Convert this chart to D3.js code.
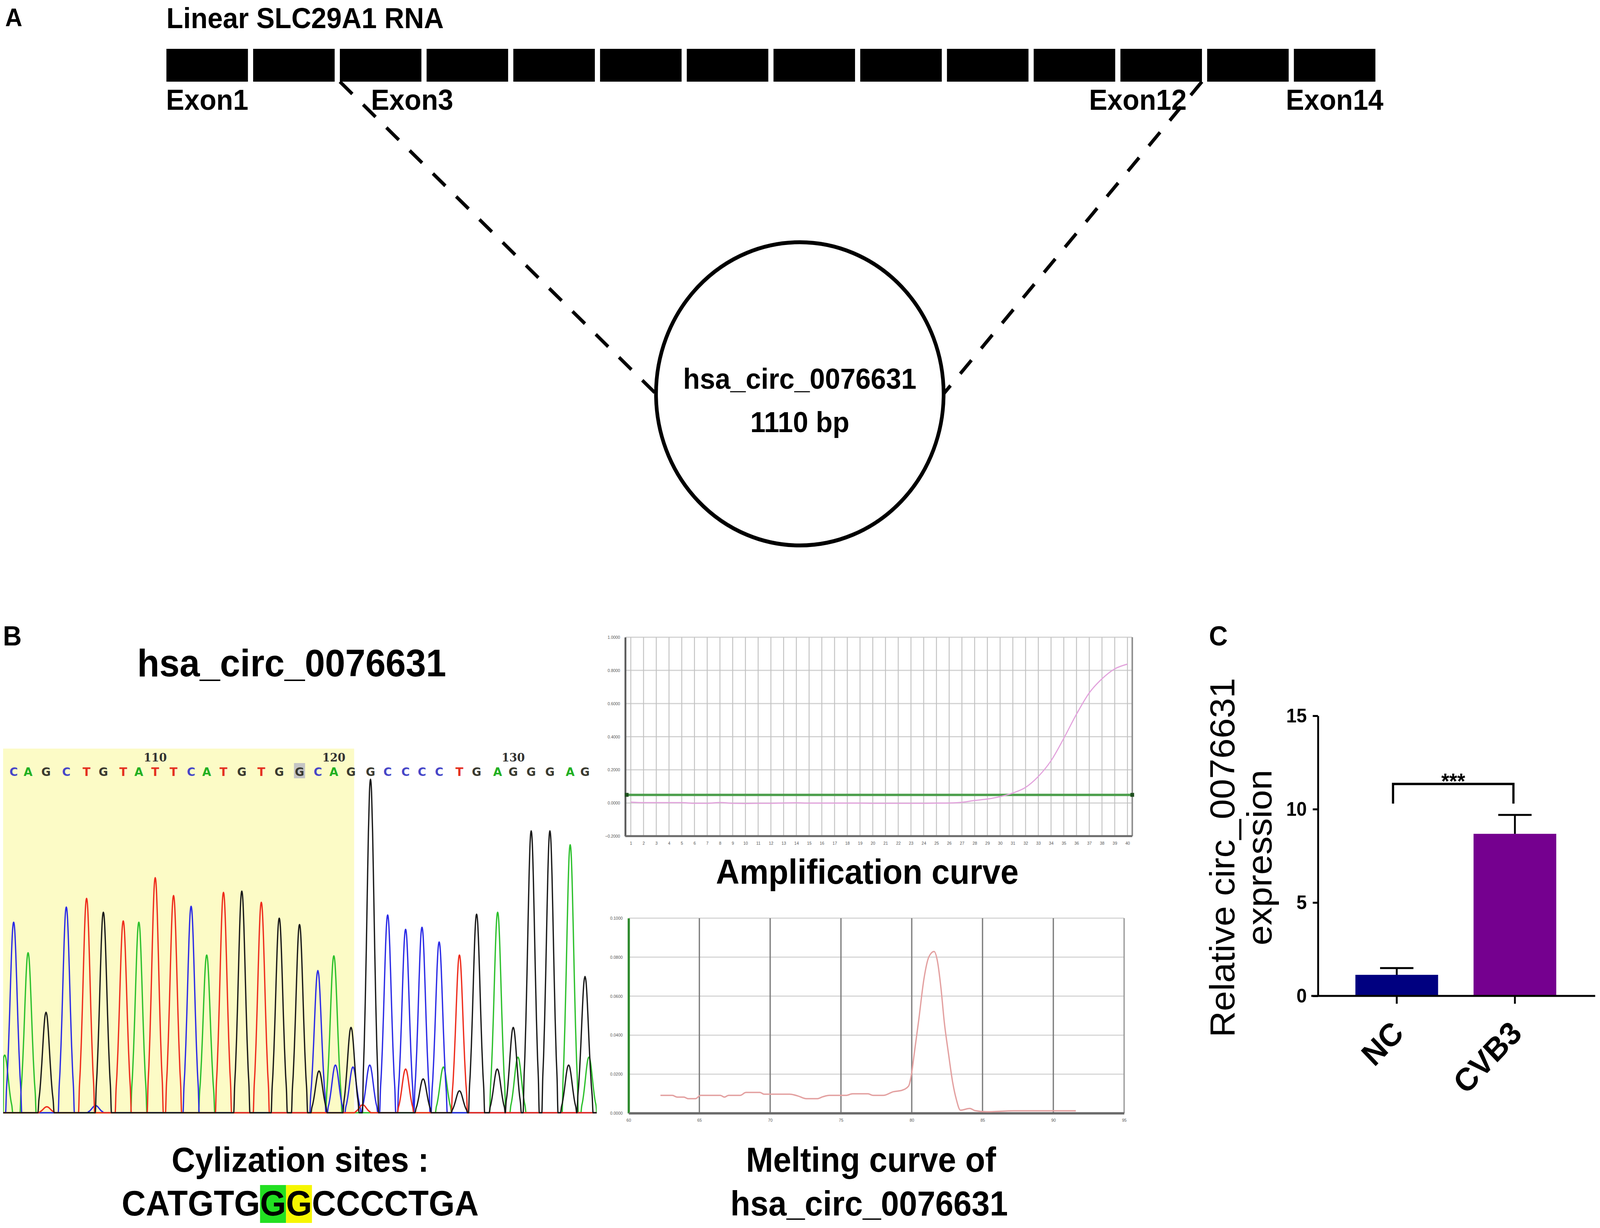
<!DOCTYPE html>
<html>
<head>
<meta charset="utf-8">
<title>hsa_circ_0076631</title>
<script src="https://cdn.jsdelivr.net/npm/d3@7"></script>
<style>
  html, body { margin: 0; padding: 0; background: #fff; overflow: hidden; }
  svg { display: block; width: 100vw; height: 100vh; }
</style>
</head>
<body>
<svg id="figure"></svg>
<script>
/* * * * * * * * * * * * * *
 *          data            *
 * * * * * * * * * * * * * */

// A - linear transcript and back-spliced circle
const exons = [1, 2, 3, 4, 5, 6, 7, 8, 9, 10, 11, 12, 13, 14];
const exonLabels = [
	{ exon: 1, text: 'Exon1' },
	{ exon: 3, text: 'Exon3' },
	{ exon: 12, text: 'Exon12' },
	{ exon: 14, text: 'Exon14' }
];
const circExons = [3, 12];
const circName = 'hsa_circ_0076631';
const circSize = '1110 bp';

// B - Sanger trace (scan position / peak height)
const baseCalls = 'CAGCTGTATTCATGTGGCAGGCCCCTGAGGGAG'.split('');
const firstBase = 102;
const peakScan = [35, 72, 118, 170, 222, 265, 316, 356, 398, 445, 490, 530, 573, 620, 670, 716, 768,
	815, 856, 900, 950, 994, 1040, 1082, 1126, 1178, 1222, 1276, 1316, 1362, 1410, 1462, 1500];
const peakHeight = [480, 403, 253, 518, 540, 505, 483, 480, 592, 547, 520, 397, 555, 558, 530, 490, 474,
	358, 395, 215, 840, 498, 462, 467, 430, 397, 500, 505, 215, 710, 710, 675, 343];
const minorPeaks = [
	{ base: 'A', scan: 12, height: 145 },
	{ base: 'T', scan: 120, height: 15 },
	{ base: 'C', scan: 245, height: 18 },
	{ base: 'G', scan: 818, height: 105 },
	{ base: 'C', scan: 860, height: 120 },
	{ base: 'C', scan: 905, height: 115 },
	{ base: 'T', scan: 930, height: 20 },
	{ base: 'C', scan: 948, height: 120 },
	{ base: 'T', scan: 1040, height: 110 },
	{ base: 'G', scan: 1085, height: 85 },
	{ base: 'A', scan: 1137, height: 115 },
	{ base: 'G', scan: 1178, height: 55 },
	{ base: 'G', scan: 1275, height: 110 },
	{ base: 'A', scan: 1328, height: 140 },
	{ base: 'G', scan: 1458, height: 120 },
	{ base: 'A', scan: 1510, height: 140 }
];
const shadedScan = [8, 908];
const traceScan = [8, 1530];
const markedBase = 16;

const junctionTitle = 'Cylization sites :';
const junctionSeq = 'CATGTGGGCCCCTGA';
const junctionMarks = [{ pos: 6, color: '#22e022' }, { pos: 7, color: '#f6f600' }];

// B - qPCR amplification curve
const ampCycles = [1, 2, 3, 4, 5, 6, 7, 8, 9, 10, 11, 12, 13, 14, 15, 16, 17, 18, 19, 20,
	21, 22, 23, 24, 25, 26, 27, 28, 29, 30, 31, 32, 33, 34, 35, 36, 37, 38, 39, 40];
const ampSignal = [0.005, 0.002, 0.002, 0.002, 0.002, -0.002, -0.002, 0.003, -0.002, -0.003,
	-0.002, -0.002, 0.0, 0.001, -0.001, -0.001, -0.001, -0.001, -0.001, -0.002,
	-0.002, -0.002, -0.002, -0.002, -0.001, 0.0, 0.004, 0.015, 0.024, 0.038,
	0.06, 0.094, 0.16, 0.255, 0.39, 0.536, 0.664, 0.749, 0.809, 0.838];
const ampThreshold = 0.049;
const ampYTicks = [-0.2, 0, 0.2, 0.4, 0.6, 0.8, 1.0];

// B - melting curve
const meltTemp = [62.25, 63.09, 63.44, 63.91, 64.2, 64.73, 65.08, 66.48, 66.77, 67.06, 67.88, 68.29,
	69.28, 69.57, 71.38, 71.96, 72.55, 73.31, 73.72, 74.18, 75.35, 75.82, 76.91, 77.27, 77.99,
	78.71, 79.3, 79.78, 79.96, 80.2, 80.5, 80.86, 81.22, 81.58, 81.82, 82.06, 82.3, 82.6, 82.9,
	83.14, 83.44, 84.1, 84.46, 85.3, 87.22, 91.59];
const meltSignal = [0.0091, 0.0091, 0.0082, 0.0082, 0.0074, 0.0074, 0.0091, 0.0091, 0.0082, 0.0091,
	0.0091, 0.0106, 0.0106, 0.0097, 0.0097, 0.0088, 0.0074, 0.0074, 0.0084, 0.0091, 0.0091, 0.0099,
	0.0099, 0.0091, 0.0091, 0.011, 0.0117, 0.0139, 0.0191, 0.0318, 0.0481, 0.0688, 0.0803, 0.0829,
	0.0777, 0.0644, 0.0466, 0.0303, 0.0154, 0.0073, 0.0015, 0.0024, 0.0013, 0.0007, 0.0012, 0.0012];
const meltXTicks = [60, 65, 70, 75, 80, 85, 90, 95];
const meltYTicks = [0, 0.02, 0.04, 0.06, 0.08, 0.1];

// C - relative expression
const groups = ['NC', 'CVB3'];
const expressionMean = [1.13, 8.68];
const expressionSem = [0.36, 1.01];
const barYTicks = [0, 5, 10, 15];
const significance = '***';

/* * * * * * * * * * * * * *
 *          setup           *
 * * * * * * * * * * * * * */

const W = 4317, H = 3143;
const FONT = '"Liberation Sans", Arial, Helvetica, sans-serif';

// laid out in 4317x3143 units and stretched over the whole window
const svg = d3.select('#figure').attr('viewBox', `0 0 ${W} ${H}`).attr('preserveAspectRatio', 'none');
svg.append('rect').attr('width', W).attr('height', H).attr('fill', '#fff');

function label(parent, text, x, y, size, opts = {}) {
	return parent
		.append('text')
		.attr('x', x)
		.attr('y', y)
		.attr('font-family', opts.family || FONT)
		.attr('font-size', size)
		.attr('font-weight', opts.weight || 'bold')
		.attr('text-anchor', opts.anchor || 'start')
		.attr('fill', opts.fill || '#000')
		.text(text);
}

// panel letters
label(svg, 'A', 14, 67, 64);
label(svg, 'B', 8, 1652, 70);
label(svg, 'C', 3262, 1652, 70);

/* * * * * * * * * * * * * *
 *         panel A          *
 * * * * * * * * * * * * * */

const gA = svg.append('g').attr('class', 'panel-a');

const xExon = d3.scaleBand().domain(exons).range([449, 3711]).paddingInner(0.06).paddingOuter(0);
const exonTop = 125, exonBottom = 209;

label(gA, 'Linear SLC29A1 RNA', xExon(1), 72, 74);

gA.selectAll('.exon')
	.data(exons)
	.join('rect')
	.attr('class', 'exon')
	.attr('x', (d) => xExon(d))
	.attr('y', exonTop)
	.attr('width', xExon.bandwidth())
	.attr('height', exonBottom - exonTop)
	.attr('fill', '#000');

// labels of the junction exons are pushed aside to make room for the dashed lines
const labelNudge = { 3: 85, 12: -63 };
gA.selectAll('.exon-label')
	.data(exonLabels)
	.join('text')
	.attr('class', 'exon-label')
	.attr('x', (d) => xExon(d.exon) + xExon.bandwidth() / 2 + (labelNudge[d.exon] || 0))
	.attr('y', 281)
	.attr('text-anchor', 'middle')
	.attr('font-family', FONT)
	.attr('font-size', 74)
	.attr('font-weight', 'bold')
	.text((d) => d.text);

const circle = { cx: 2158, cy: 1008, r: 388 };

// dashed lines from the back-splice exons down to the circle
const splice = [
	{ x1: xExon(circExons[0]), x2: circle.cx - circle.r },
	{ x1: xExon(circExons[1]) + xExon.bandwidth(), x2: circle.cx + circle.r }
];
gA.selectAll('.splice')
	.data(splice)
	.join('line')
	.attr('class', 'splice')
	.attr('x1', (d) => d.x1)
	.attr('y1', exonBottom)
	.attr('x2', (d) => d.x2)
	.attr('y2', circle.cy)
	.attr('stroke', '#000')
	.attr('stroke-width', 9)
	.attr('stroke-dasharray', '46,40');

gA.append('circle')
	.attr('cx', circle.cx)
	.attr('cy', circle.cy)
	.attr('r', circle.r)
	.attr('fill', '#fff')
	.attr('stroke', '#000')
	.attr('stroke-width', 10);

label(gA, circName, circle.cx, 995, 74, { anchor: 'middle' });
label(gA, circSize, circle.cx, 1106, 74, { anchor: 'middle' });

/* * * * * * * * * * * * * *
 *    panel B - sequence    *
 * * * * * * * * * * * * * */

const gSeq = svg.append('g').attr('class', 'panel-b-seq');

label(gSeq, circName, 787, 1731, 98, { anchor: 'middle' });

const xSeq = d3.scaleLinear().domain([0, 1530]).range([0, 1610]);
const ySeq = d3.scaleLinear().domain([0, 920]).range([2851, 1916]);

const baseColor = { A: '#2cc02c', C: '#2a2ae6', G: '#1a1a1a', T: '#ee2c1c' };
const letterColor = { A: '#22b022', C: '#4646c8', G: '#3a3a30', T: '#e43020' };

gSeq.append('rect')
	.attr('x', xSeq(shadedScan[0]))
	.attr('y', ySeq.range()[1])
	.attr('width', xSeq(shadedScan[1]) - xSeq(shadedScan[0]))
	.attr('height', ySeq.range()[0] - ySeq.range()[1])
	.attr('fill', '#fcfbc6');

// bell shaped peak symbol, in units of the peak width
const PEAK_SHAPE = [[-2.3, 0], [-2.05, 0.12], [-1.8, 0.2], [-1.5, 0.33], [-1.2, 0.49], [-0.9, 0.67],
	[-0.6, 0.84], [-0.3, 0.96], [0, 1], [0.3, 0.96], [0.6, 0.84], [0.9, 0.67], [1.2, 0.49],
	[1.5, 0.33], [1.8, 0.2], [2.05, 0.12], [2.3, 0]];
const PEAK_WIDTH = 9;
const LIFT = 3;

function tracePoints(base) {
	const peaks = [];
	baseCalls.forEach((b, i) => { if (b === base) peaks.push([peakScan[i], peakHeight[i]]); });
	minorPeaks.filter((m) => m.base === base).forEach((m) => peaks.push([m.scan, m.height]));
	peaks.sort((a, b) => a[0] - b[0]);
	const pts = [[traceScan[0], LIFT]];
	peaks.forEach(([s, h]) => PEAK_SHAPE.forEach(([dx, f]) => pts.push([s + dx * PEAK_WIDTH, LIFT + f * h])));
	pts.push([traceScan[1], LIFT]);
	pts.sort((a, b) => a[0] - b[0]);
	return pts.filter((p, i) => i === 0 || p[0] > pts[i - 1][0]);
}

const traceLine = d3.line().x((d) => xSeq(d[0])).y((d) => ySeq(d[1])).curve(d3.curveMonotoneX);

svg.append('clipPath')
	.attr('id', 'trace-clip')
	.append('rect')
	.attr('x', xSeq(traceScan[0]))
	.attr('y', 1900)
	.attr('width', xSeq(traceScan[1]) - xSeq(traceScan[0]))
	.attr('height', 960);

gSeq.append('g')
	.attr('clip-path', 'url(#trace-clip)')
	.selectAll('.trace')
	.data(['A', 'C', 'T', 'G'])
	.join('path')
	.attr('class', 'trace')
	.attr('d', (b) => traceLine(tracePoints(b)))
	.attr('fill', 'none')
	.attr('stroke', (b) => baseColor[b])
	.attr('stroke-width', 3.5)
	.attr('stroke-linejoin', 'round');

// base calls
gSeq.append('rect')
	.attr('x', xSeq(peakScan[markedBase]) - 15)
	.attr('y', 1953)
	.attr('width', 30)
	.attr('height', 39)
	.attr('fill', '#c4c4c4');

gSeq.selectAll('.call')
	.data(baseCalls)
	.join('text')
	.attr('class', 'call')
	.attr('x', (d, i) => xSeq(peakScan[i]))
	.attr('y', 1986)
	.attr('text-anchor', 'middle')
	.attr('font-family', '"DejaVu Sans", Verdana, sans-serif')
	.attr('font-weight', 'bold')
	.attr('font-size', 31)
	.attr('fill', (d) => letterColor[d])
	.text((d) => d);

gSeq.selectAll('.pos')
	.data(baseCalls.map((d, i) => i).filter((i) => (firstBase + i) % 10 === 0))
	.join('text')
	.attr('class', 'pos')
	.attr('x', (i) => xSeq(peakScan[i]))
	.attr('y', 1949)
	.attr('text-anchor', 'middle')
	.attr('font-family', '"DejaVu Serif", serif')
	.attr('font-weight', 'bold')
	.attr('font-size', 30)
	.attr('fill', '#333')
	.text((i) => firstBase + i);

label(gSeq, junctionTitle, 810, 2999, 88, { anchor: 'middle' });

const seqMarks = gSeq.append('g');
const seqText = label(gSeq, junctionSeq, 810, 3111, 90, { anchor: 'middle' });
const seqNode = seqText.node();
junctionMarks.forEach((m) => {
	const x0 = seqNode.getStartPositionOfChar(m.pos).x;
	const x1 = seqNode.getEndPositionOfChar(m.pos).x;
	seqMarks.append('rect')
		.attr('x', x0)
		.attr('y', 3033)
		.attr('width', x1 - x0)
		.attr('height', 97)
		.attr('fill', m.color);
});

/* * * * * * * * * * * * * *
 *  panel B - amplification *
 * * * * * * * * * * * * * */

const gAmp = svg.append('g').attr('class', 'panel-b-amp');

const xAmp = d3.scaleLinear().domain([1, 40]).range([1702, 3042]);
const yAmp = d3.scaleLinear().domain([-0.2, 1.0]).range([2140, 1631]);
const ampLeft = xAmp(1) - 15, ampRight = xAmp(40) + 13;

gAmp.selectAll('.hgrid')
	.data(ampYTicks)
	.join('line')
	.attr('class', 'hgrid')
	.attr('x1', ampLeft)
	.attr('x2', ampRight)
	.attr('y1', (d) => yAmp(d))
	.attr('y2', (d) => yAmp(d))
	.attr('stroke', '#d2d2d2')
	.attr('stroke-width', 3);

gAmp.selectAll('.vgrid')
	.data(ampCycles)
	.join('line')
	.attr('class', 'vgrid')
	.attr('x1', (d) => xAmp(d))
	.attr('x2', (d) => xAmp(d))
	.attr('y1', yAmp(1.0))
	.attr('y2', yAmp(-0.2))
	.attr('stroke', '#c2c2c2')
	.attr('stroke-width', 2.5);

gAmp.append('line')
	.attr('x1', ampRight).attr('x2', ampRight)
	.attr('y1', yAmp(1.0)).attr('y2', yAmp(-0.2))
	.attr('stroke', '#8a8a8a').attr('stroke-width', 4);

gAmp.append('g')
	.attr('transform', `translate(${ampLeft},0)`)
	.call(d3.axisLeft(yAmp).tickValues(ampYTicks).tickSize(0).tickPadding(14).tickFormat(d3.format('.4f')))
	.call((g) => {
		g.select('.domain').attr('stroke', '#5a5a5a').attr('stroke-width', 5);
		g.selectAll('text').attr('font-family', FONT).attr('font-size', 11).attr('fill', '#555');
	});

gAmp.append('g')
	.attr('transform', `translate(0,${yAmp(-0.2)})`)
	.call(d3.axisBottom(xAmp).tickValues(ampCycles).tickSize(0).tickPadding(14).tickFormat(d3.format('d')))
	.call((g) => {
		g.select('.domain').remove();
		g.selectAll('text').attr('font-family', FONT).attr('font-size', 11).attr('fill', '#555');
	});

gAmp.append('line')
	.attr('x1', ampLeft).attr('x2', ampRight)
	.attr('y1', yAmp(-0.2)).attr('y2', yAmp(-0.2))
	.attr('stroke', '#6a6a6a').attr('stroke-width', 5);

gAmp.append('line')
	.attr('x1', ampLeft + 4).attr('x2', ampRight)
	.attr('y1', yAmp(ampThreshold)).attr('y2', yAmp(ampThreshold))
	.attr('stroke', '#4b9e4b').attr('stroke-width', 6);
gAmp.selectAll('.thr-end')
	.data([ampLeft + 4, ampRight])
	.join('rect')
	.attr('class', 'thr-end')
	.attr('x', (d) => d - 5)
	.attr('y', yAmp(ampThreshold) - 5)
	.attr('width', 10)
	.attr('height', 10)
	.attr('fill', '#1f4f1f');

gAmp.append('path')
	.datum(ampCycles.map((c, i) => [c, ampSignal[i]]))
	.attr('d', d3.line().x((d) => xAmp(d[0])).y((d) => yAmp(d[1])).curve(d3.curveMonotoneX))
	.attr('fill', 'none')
	.attr('stroke', '#e2a2dc')
	.attr('stroke-width', 3);

label(gAmp, 'Amplification curve', 2340, 2262, 88, { anchor: 'middle' });

/* * * * * * * * * * * * * *
 *   panel B - melting      *
 * * * * * * * * * * * * * */

const gMelt = svg.append('g').attr('class', 'panel-b-melt');

const xMelt = d3.scaleLinear().domain([60, 95]).range([1696, 3033]);
const yMelt = d3.scaleLinear().domain([0, 0.1]).range([2849, 2350]);

gMelt.selectAll('.hgrid')
	.data(meltYTicks)
	.join('line')
	.attr('class', 'hgrid')
	.attr('x1', xMelt(60))
	.attr('x2', xMelt(95))
	.attr('y1', (d) => yMelt(d))
	.attr('y2', (d) => yMelt(d))
	.attr('stroke', '#d6d6d6')
	.attr('stroke-width', 3);

gMelt.selectAll('.vgrid')
	.data(meltXTicks.slice(1))
	.join('line')
	.attr('class', 'vgrid')
	.attr('x1', (d) => xMelt(d))
	.attr('x2', (d) => xMelt(d))
	.attr('y1', yMelt(0.1))
	.attr('y2', yMelt(0))
	.attr('stroke', (d) => (d === 95 ? '#9a9a9a' : '#7e7e7e'))
	.attr('stroke-width', 3.5);

gMelt.append('g')
	.attr('transform', `translate(${xMelt(60)},0)`)
	.call(d3.axisLeft(yMelt).tickValues(meltYTicks).tickSize(0).tickPadding(16).tickFormat(d3.format('.4f')))
	.call((g) => {
		g.select('.domain').attr('stroke', '#2d8a2d').attr('stroke-width', 6);
		g.selectAll('text').attr('font-family', FONT).attr('font-size', 11).attr('fill', '#555');
	});

gMelt.append('g')
	.attr('transform', `translate(0,${yMelt(0)})`)
	.call(d3.axisBottom(xMelt).tickValues(meltXTicks).tickSize(0).tickPadding(14).tickFormat(d3.format('d')))
	.call((g) => {
		g.select('.domain').attr('stroke', '#6a6a6a').attr('stroke-width', 6);
		g.selectAll('text').attr('font-family', FONT).attr('font-size', 11).attr('fill', '#555');
	});

gMelt.append('path')
	.datum(meltTemp.map((t, i) => [t, meltSignal[i]]))
	.attr('d', d3.line().x((d) => xMelt(d[0])).y((d) => yMelt(d[1])).curve(d3.curveMonotoneX))
	.attr('fill', 'none')
	.attr('stroke', '#e3a0a0')
	.attr('stroke-width', 3.5);

label(gMelt, 'Melting curve of', 2350, 2999, 88, { anchor: 'middle' });
label(gMelt, circName, 2345, 3111, 88, { anchor: 'middle' });

/* * * * * * * * * * * * * *
 *         panel C          *
 * * * * * * * * * * * * * */

const gC = svg.append('g').attr('class', 'panel-c');

const yBar = d3.scaleLinear().domain([0, 15]).range([2549, 1832]);
const xBar = d3.scaleBand().domain(groups).range([3657, 4199]).paddingInner(0.3).paddingOuter(0);
const barColors = ['#000080', '#75008f'];
const axisX = 3556;

gC.selectAll('.bar')
	.data(groups)
	.join('rect')
	.attr('class', 'bar')
	.attr('x', (d) => xBar(d))
	.attr('y', (d, i) => yBar(expressionMean[i]))
	.attr('width', xBar.bandwidth())
	.attr('height', (d, i) => yBar(0) - yBar(expressionMean[i]))
	.attr('fill', (d, i) => barColors[i]);

// error bars (mean + SEM)
const capHalf = 45;
groups.forEach((g, i) => {
	const cx = xBar(g) + xBar.bandwidth() / 2;
	const top = yBar(expressionMean[i] + expressionSem[i]);
	gC.append('line')
		.attr('x1', cx).attr('x2', cx)
		.attr('y1', yBar(expressionMean[i])).attr('y2', top)
		.attr('stroke', '#000').attr('stroke-width', 5);
	gC.append('line')
		.attr('x1', cx - capHalf).attr('x2', cx + capHalf)
		.attr('y1', top).attr('y2', top)
		.attr('stroke', '#000').attr('stroke-width', 5);
});

gC.append('g')
	.attr('transform', `translate(${axisX},0)`)
	.call(d3.axisLeft(yBar).tickValues(barYTicks).tickSize(14).tickSizeOuter(0).tickPadding(16))
	.call((g) => {
		g.select('.domain').attr('stroke-width', 5);
		g.selectAll('.tick line').attr('stroke-width', 5);
		g.selectAll('text').attr('font-family', FONT).attr('font-size', 50).attr('font-weight', 'bold').attr('fill', '#000');
	});

gC.append('g')
	.attr('transform', `translate(0,${yBar(0)})`)
	.call(d3.axisBottom(xBar).tickSize(20).tickSizeOuter(0))
	.call((g) => {
		g.select('.domain').remove();
		g.selectAll('.tick line').attr('stroke-width', 5);
		g.selectAll('text')
			.attr('font-family', FONT)
			.attr('font-size', 82)
			.attr('font-weight', 'bold')
			.attr('fill', '#000')
			.attr('y', 0)
			.attr('dy', 0)
			.attr('text-anchor', 'end')
			.attr('transform', 'translate(23,100) rotate(-45)');
	});

gC.append('line')
	.attr('x1', axisX - 18).attr('x2', 4304)
	.attr('y1', yBar(0)).attr('y2', yBar(0))
	.attr('stroke', '#000').attr('stroke-width', 5);

// significance bracket
const bx0 = xBar(groups[0]) + xBar.bandwidth() / 2 - 10;
const bx1 = xBar(groups[1]) + xBar.bandwidth() / 2 - 4;
gC.append('path')
	.attr('d', `M${bx0},${yBar(10.3)}V${yBar(11.35)}H${bx1}V${yBar(10.3)}`)
	.attr('fill', 'none')
	.attr('stroke', '#000')
	.attr('stroke-width', 6);
label(gC, significance, (bx0 + bx1) / 2, yBar(11.35) + 12, 55, { anchor: 'middle' });

// y axis title
const yTitle = gC.append('text')
	.attr('transform', 'translate(3330,2195) rotate(-90)')
	.attr('text-anchor', 'middle')
	.attr('font-family', FONT)
	.attr('font-size', 93)
	.attr('fill', '#000');
yTitle.append('tspan').attr('x', 0).attr('y', 0).text('Relative circ_0076631');
yTitle.append('tspan').attr('x', 0).attr('y', 101).text('expression');
</script>
</body>
</html>
